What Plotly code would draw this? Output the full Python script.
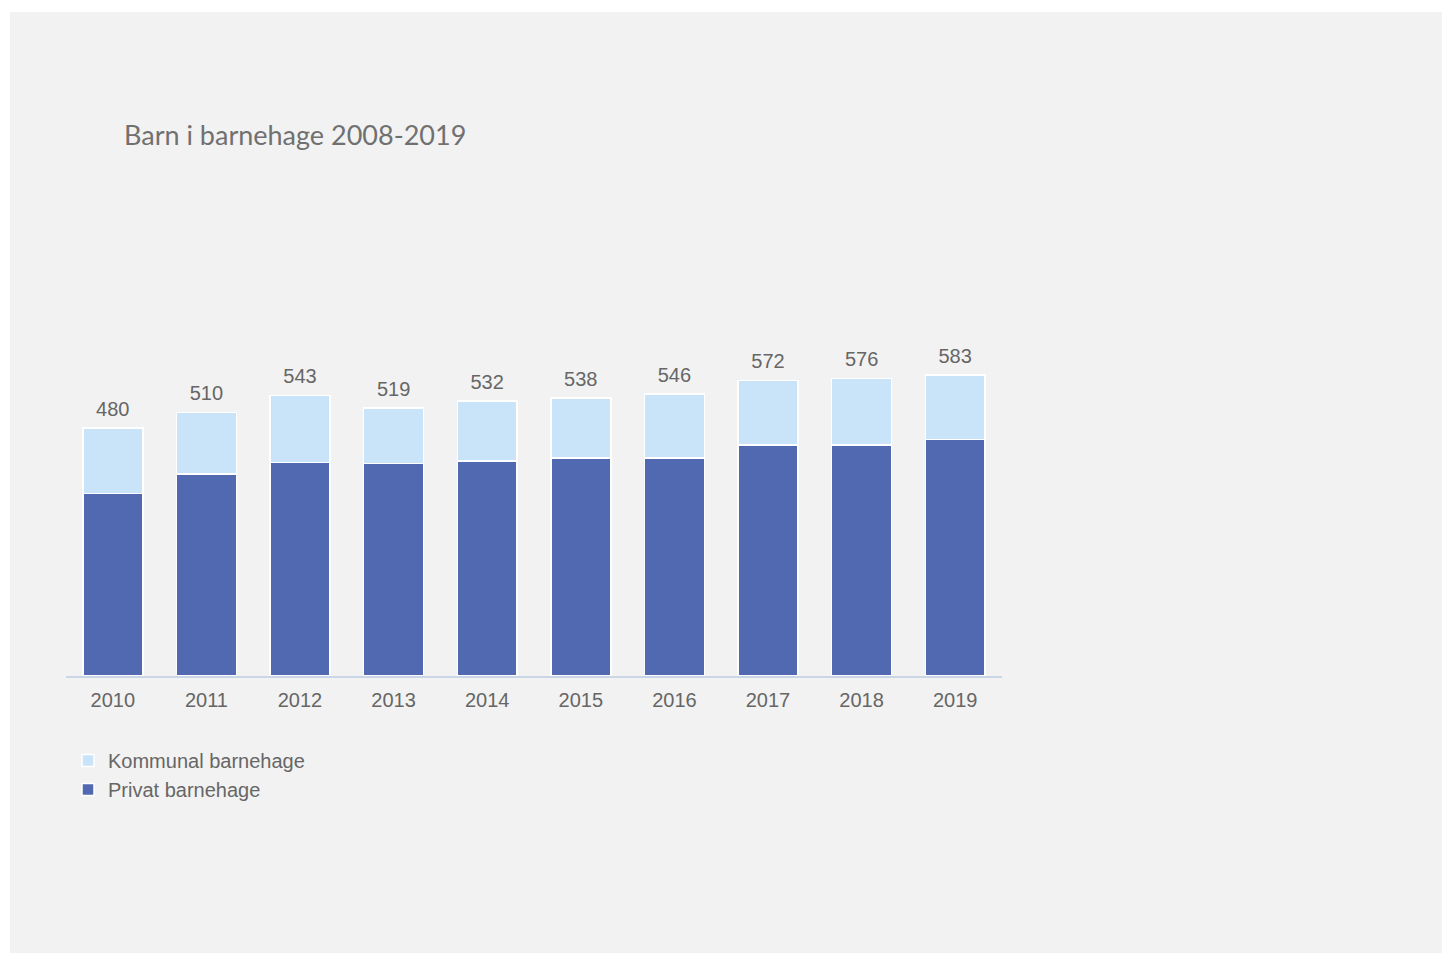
import plotly.graph_objects as go

years = ["2010", "2011", "2012", "2013", "2014", "2015", "2016", "2017", "2018", "2019"]
privat = [353, 391, 413, 411, 416, 422, 422, 447, 447, 458]
kommunal = [127, 119, 130, 108, 116, 116, 124, 125, 129, 125]
totals = [p + k for p, k in zip(privat, kommunal)]

title_text = "Barn i barnehage 2008-2019"
name_k = "Kommunal barnehage"
name_p = "Privat barnehage"

C_DARK = "#5169b0"
C_LIGHT = "#c9e4f8"
C_TEXT = "#666666"
C_BG = "#f2f2f2"

W, H = 1442, 955
ML, MR, MT, MB = 66, 440, 366, 279
PW = W - ML - MR
PH = H - MT - MB
YMAX = 600

fig = go.Figure()
fig.add_trace(go.Bar(x=years, y=privat, name=name_p, marker=dict(color=C_DARK, line=dict(color="white", width=1.5))))
fig.add_trace(go.Bar(x=years, y=kommunal, name=name_k, marker=dict(color=C_LIGHT, line=dict(color="white", width=1.5))))
fig.add_trace(go.Scatter(x=years, y=totals, mode="markers+text", text=[str(t) for t in totals],
                         marker=dict(size=10, opacity=0, color=C_BG),
                         textposition="top center", textfont=dict(size=20, color=C_TEXT),
                         showlegend=False, hoverinfo="skip", cliponaxis=False))

def px_x(fx):
    return (fx - ML) / PW
def px_y(fy):
    return (H - MB - fy) / PH

# gray panel
fig.add_shape(type="rect", xref="paper", yref="paper", x0=px_x(10), x1=px_x(W + 10), y0=px_y(953), y1=px_y(12),
              fillcolor=C_BG, line=dict(width=0), layer="below")

fig.update_layout(
    width=W, height=H,
    margin=dict(l=ML, r=MR, t=MT, b=MB),
    paper_bgcolor="white", plot_bgcolor="rgba(0,0,0,0)",
    barmode="stack", bargap=0.36,
    font=dict(family="Liberation Sans, Arial, sans-serif", size=20, color=C_TEXT),
    title=dict(text=title_text, x=124 / W, xanchor="left", xref="container",
               y=1 - 136 / H, yanchor="middle", yref="container",
               font=dict(family="Lato, sans-serif", size=27, color="#707070")),
    legend=dict(x=px_x(68), xanchor="left", y=px_y(741), yanchor="top", traceorder="reversed",
                bgcolor="rgba(0,0,0,0)", font=dict(size=20, color=C_TEXT), tracegroupgap=0),
    showlegend=True,
)
fig.update_xaxes(showline=True, linecolor="#c9d6e8", linewidth=2, showgrid=False,
                 tickfont=dict(size=20, color=C_TEXT), ticks="", ticklabelstandoff=5, range=[-0.5, 9.5])
fig.update_yaxes(visible=False, range=[0, YMAX], showgrid=False, zeroline=False)

fig.write_html("out.html", config={"displayModeBar": False},
               post_script="document.body.style.margin='0';document.body.style.overflow='hidden';")
